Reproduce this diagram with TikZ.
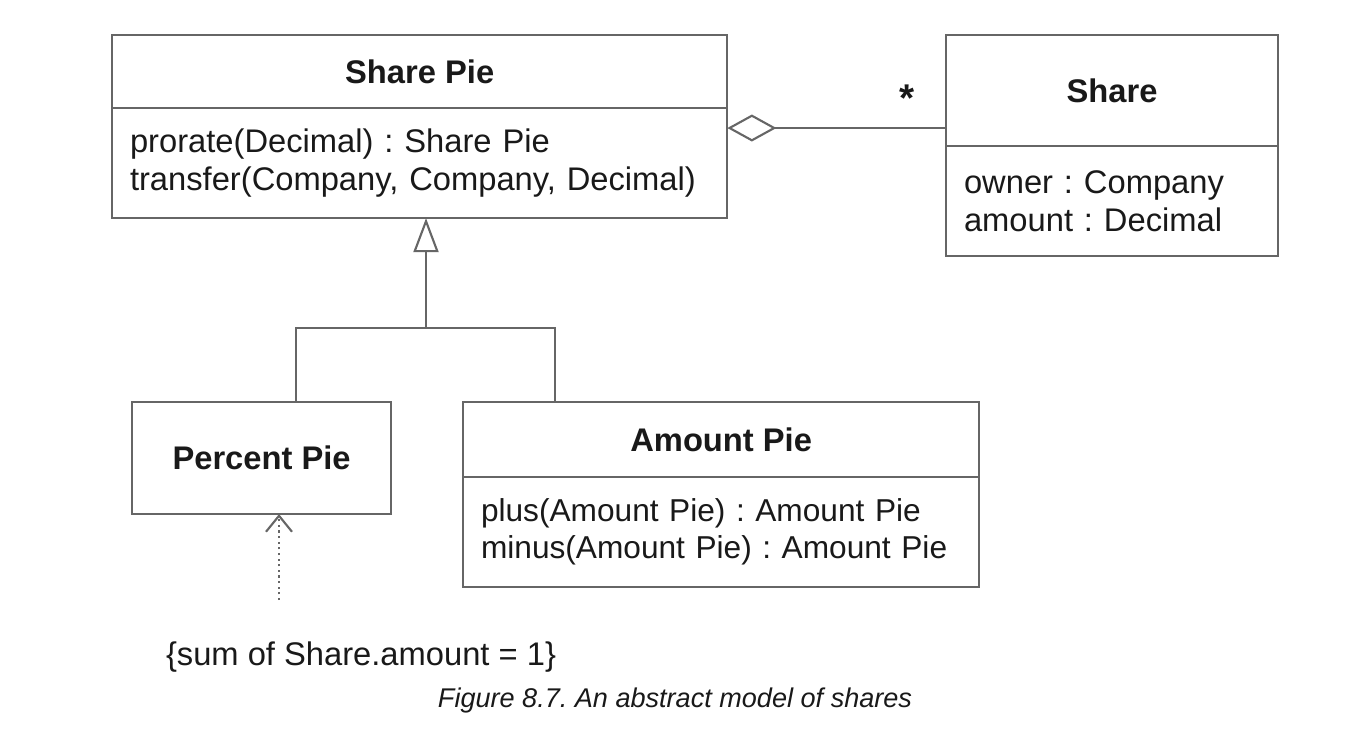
\documentclass[tikz,border=0pt]{standalone}
\usepackage{fontspec}
\setmainfont{Liberation Sans}
\usetikzlibrary{positioning,arrows.meta}
\definecolor{linegray}{gray}{0.4}
\definecolor{inkblack}{gray}{0.1}
\frenchspacing
\tikzset{
  conn/.style={draw=linegray, line width=0.6pt},
  classtitle/.style={conn, outer sep=0pt, anchor=north west, inner sep=0pt, text=inkblack,
    font=\fontsize{9.3}{11}\selectfont\bfseries},
  classbody/.style={conn, outer sep=0pt, inner xsep=0.18cm, inner ysep=0pt, align=left, text=inkblack,
    font=\fontsize{9.3}{11}\selectfont},
}
\begin{document}
\begin{tikzpicture}[x=0.01cm, y=-0.01cm]
    \useasboundingbox (0,0) rectangle (1371,732);

    % Share Pie
    \node[classtitle, minimum width=6.15cm, minimum height=0.73cm] (spTitle) at (112,35) {Share Pie};
    \node[classbody, below=0pt of spTitle, text width=5.79cm, minimum height=1.10cm] (spBody)
        {prorate(Decimal) : Share Pie\\transfer(Company, Company, Decimal)};

    % Share
    \node[classtitle, minimum width=3.32cm, minimum height=1.11cm] (shTitle) at (946,35) {Share};
    \node[classbody, below=0pt of shTitle, text width=2.96cm, minimum height=1.10cm] (shBody)
        {owner : Company\\amount : Decimal};

    % Subclasses
    \node[classtitle, minimum width=2.59cm, minimum height=1.12cm] (ppTitle) at (132,402) {Percent Pie};
    \node[classtitle, minimum width=5.16cm, minimum height=0.75cm] (apTitle) at (463,402) {Amount Pie};
    \node[classbody, below=0pt of apTitle, text width=4.80cm, minimum height=1.10cm,
        font=\fontsize{9}{10.6}\selectfont] (apBody)
        {plus(Amount Pie) : Amount Pie\\minus(Amount Pie) : Amount Pie};

    % Aggregation
    \coordinate (aggrY) at (0,128);
    \draw[conn, -{Diamond[open, length=0.49cm, width=0.27cm]}] (shTitle.west |- aggrY) -- (spBody.east |- aggrY);
    \node[text=inkblack, font=\fontsize{11}{11}\selectfont\bfseries] (mult) at (907,98) {*};

    % Generalization
    \coordinate (genJoin) at (426,328);
    \coordinate (joinL) at (296,328);
    \coordinate (joinR) at (555,328);
    \draw[conn] (ppTitle.north -| joinL) -- (joinL) -- (joinR) -- (apTitle.north -| joinR);
    \draw[conn, -{Triangle[open, length=0.34cm, width=0.25cm]}] (genJoin) -- (spBody.south -| genJoin);

    % Constraint
    \node[text=inkblack, font=\fontsize{9.3}{11}\selectfont] (constraint) at (361,657) {\{sum of Share.amount = 1\}};
    \coordinate (depFoot) at (279,600);
    \draw[conn, densely dotted, -{Straight Barb[length=0.16cm, width=0.26cm]}] (depFoot) -- (ppTitle.south -| depFoot);

    % Caption
    \node[text=inkblack, font=\fontsize{7.7}{9}\selectfont\itshape] (caption) at (675,700) {Figure 8.7. An abstract model of shares};
\end{tikzpicture}
\end{document}
